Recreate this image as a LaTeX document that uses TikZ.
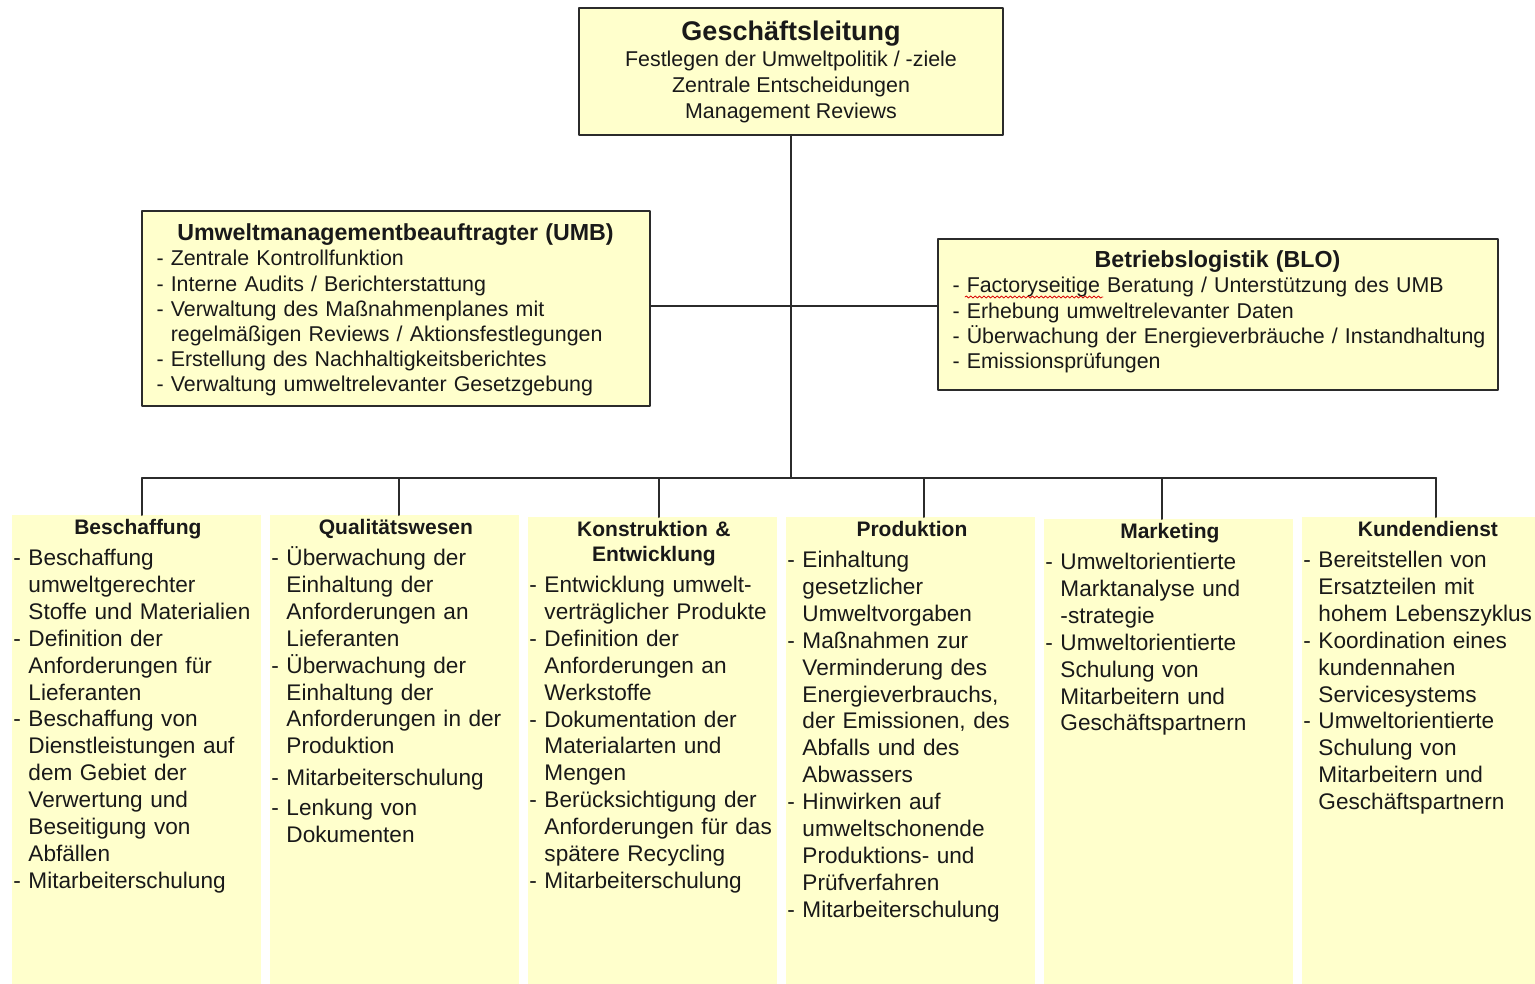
\documentclass[tikz,border=0pt]{standalone}
\usepackage{fontspec}
\setmainfont{Liberation Sans}
\usetikzlibrary{decorations.pathmorphing}
\definecolor{notefill}{HTML}{FFFFCC}
\definecolor{linegray}{HTML}{2B2B2B}
\newcommand{\ind}{\leavevmode\hphantom{-~}}
\newcommand{\hc}[1]{\makebox[124.5pt]{#1}}
\newcommand{\colhead}[1]{{\fontsize{10.5}{12.5}\selectfont\bfseries #1\par}\vspace{2pt}}
\newcommand{\boxhead}[2]{{\fontsize{11.6}{12.6}\selectfont\bfseries\makebox[#1]{#2}\par}}
\tikzset{
  topbox/.style={draw=linegray, line width=0.9pt, fill=notefill, inner sep=0pt, text=black!90},
  boxtext/.style={anchor=north west, text width=275pt, align=left, inner sep=0pt, text=black!90, font=\fontsize{10.7}{12.6}\selectfont},
  colbox/.style={fill=notefill, minimum width=124.5pt, minimum height=240pt, inner sep=0pt, anchor=north west},
  coltext/.style={anchor=north west, text width=150pt, align=left, inner sep=0pt, text=black!90, font=\fontsize{11.3}{13.45}\selectfont},
  conn/.style={draw=linegray, line width=1pt}
}
\begin{document}
\begin{tikzpicture}[x=0.5pt, y=-0.5pt, line join=round, line cap=round]
\useasboundingbox (0,0) rectangle (1535,984);
\fill[white] (0,0) rectangle (1535,984);

\node[topbox, minimum width=212pt, minimum height=63.5pt, align=center, font=\fontsize{10.7}{13}\selectfont] (gl) at (791,71.5)
  {{\fontsize{13.5}{13}\selectfont\bfseries Geschäftsleitung}\\ Festlegen der Umweltpolitik / -ziele\\ Zentrale Entscheidungen\\ Management Reviews};

\node[topbox, minimum width=254pt, minimum height=97.5pt] (umb) at (396,308.5) {};
\node[boxtext] (umbT) at ([xshift=7.5pt,yshift=-6.7pt]umb.north west) {\boxhead{239pt}{Umweltmanagementbeauftragter (UMB)}
- Zentrale Kontrollfunktion\\
- Interne Audits / Berichterstattung\\
- Verwaltung des Maßnahmenplanes mit\\
\ind regelmäßigen Reviews / Aktionsfestlegungen\\
- Erstellung des Nachhaltigkeitsberichtes\\
- Verwaltung umweltrelevanter Gesetzgebung};

\node[topbox, minimum width=280pt, minimum height=75.5pt] (blo) at (1218,314.5) {};
\node[boxtext] (bloT) at ([xshift=7.5pt,yshift=-6.2pt]blo.north west) {\boxhead{265pt}{Betriebslogistik (BLO)}
- Factoryseitige Beratung / Unterstützung des UMB\\
- Erhebung umweltrelevanter Daten\\
- Überwachung der Energieverbräuche / Instandhaltung\\
- Emissionsprüfungen};
\draw[red!85!black, line width=0.4pt, decorate, decoration={snake, amplitude=0.5pt, segment length=2.2pt}] (965,297) -- (1103,297);

\foreach \n/\x/\t in {besch/12/515,qual/270/515,konst/528/517,prod/786/517,mark/1044/519,kund/1302/517}
  \node[colbox] (\n) at (\x,\t) {};

\node[coltext] (beschT) at ([xshift=0.5pt,yshift=-2pt]besch.north west) {\colhead{\hc{Beschaffung}}
- Beschaffung\\
\ind umweltgerechter\\
\ind Stoffe und Materialien\\
- Definition der\\
\ind Anforderungen für\\
\ind Lieferanten\\
- Beschaffung von\\
\ind Dienstleistungen auf\\
\ind dem Gebiet der\\
\ind Verwertung und\\
\ind Beseitigung von\\
\ind Abfällen\\
- Mitarbeiterschulung};

\node[coltext] (qualT) at ([xshift=0.5pt,yshift=-2pt]qual.north west) {\colhead{\hc{Qualitätswesen}}
- Überwachung der\\
\ind Einhaltung der\\
\ind Anforderungen an\\
\ind Lieferanten\\
- Überwachung der\\
\ind Einhaltung der\\
\ind Anforderungen in der\\
\ind Produktion\\[2.5pt]
- Mitarbeiterschulung\\[1.5pt]
- Lenkung von\\
\ind Dokumenten};

\node[coltext] (konstT) at ([xshift=0.5pt,yshift=-2pt]konst.north west) {\colhead{\hc{Konstruktion \&}\\\hc{Entwicklung}}
- Entwicklung umwelt-\\
\ind verträglicher Produkte\\
- Definition der\\
\ind Anforderungen an\\
\ind Werkstoffe\\
- Dokumentation der\\
\ind Materialarten und\\
\ind Mengen\\
- Berücksichtigung der\\
\ind Anforderungen für das\\
\ind spätere Recycling\\
- Mitarbeiterschulung};

\node[coltext] (prodT) at ([xshift=0.5pt,yshift=-2pt]prod.north west) {\colhead{\hc{Produktion}}
- Einhaltung\\
\ind gesetzlicher\\
\ind Umweltvorgaben\\
- Maßnahmen zur\\
\ind Verminderung des\\
\ind Energieverbrauchs,\\
\ind der Emissionen, des\\
\ind Abfalls und des\\
\ind Abwassers\\
- Hinwirken auf\\
\ind umweltschonende\\
\ind Produktions- und\\
\ind Prüfverfahren\\
- Mitarbeiterschulung};

\node[coltext] (markT) at ([xshift=0.5pt,yshift=-2pt]mark.north west) {\colhead{\hc{Marketing}}
- Umweltorientierte\\
\ind Marktanalyse und\\
\ind -strategie\\
- Umweltorientierte\\
\ind Schulung von\\
\ind Mitarbeitern und\\
\ind Geschäftspartnern};

\node[coltext] (kundT) at ([xshift=0.5pt,yshift=-2pt]kund.north west) {\colhead{\hc{Kundendienst}}
- Bereitstellen von\\
\ind Ersatzteilen mit\\
\ind hohem Lebenszyklus\\
- Koordination eines\\
\ind kundennahen\\
\ind Servicesystems\\
- Umweltorientierte\\
\ind Schulung von\\
\ind Mitarbeitern und\\
\ind Geschäftspartnern};

\coordinate (mid) at (792,306);
\coordinate (bus) at (792,478);
\draw[conn] (gl.south) -- (gl.south |- bus);
\draw[conn] (mid -| umb.east) -- (mid -| blo.west);
\draw[conn] (142,0 |- bus) -- (1436,0 |- bus);
\foreach \n/\x in {besch/142,qual/399,konst/659,prod/924,mark/1162,kund/1436}
  \draw[conn] (\x,0 |- bus) -- (\x,0 |- \n.north);
\end{tikzpicture}
\end{document}
